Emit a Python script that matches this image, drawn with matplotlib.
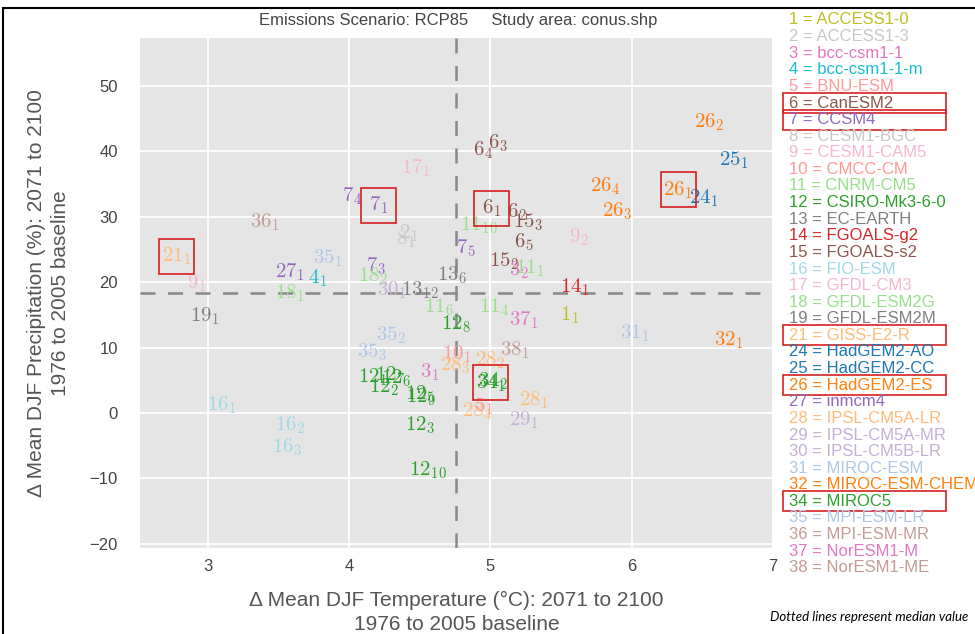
import matplotlib
matplotlib.use("Agg")
import matplotlib.pyplot as plt
from matplotlib.patches import Rectangle
from matplotlib.lines import Line2D

plt.rcParams['mathtext.fontset'] = 'cm'
NARROW = ['Liberation Sans Narrow', 'Liberation Sans', 'DejaVu Sans']

# ---- legend data ----
model_ids = [1, 2, 3, 4, 5, 6, 7, 8, 9, 10, 11, 12, 13, 14, 15, 16, 17, 18, 19,
             21, 24, 25, 26, 27, 28, 29, 30, 31, 32, 34, 35, 36, 37, 38]
model_names = ['ACCESS1-0', 'ACCESS1-3', 'bcc-csm1-1', 'bcc-csm1-1-m', 'BNU-ESM',
               'CanESM2', 'CCSM4', 'CESM1-BGC', 'CESM1-CAM5', 'CMCC-CM', 'CNRM-CM5',
               'CSIRO-Mk3-6-0', 'EC-EARTH', 'FGOALS-g2', 'FGOALS-s2', 'FIO-ESM',
               'GFDL-CM3', 'GFDL-ESM2G', 'GFDL-ESM2M', 'GISS-E2-R', 'HadGEM2-AO',
               'HadGEM2-CC', 'HadGEM2-ES', 'inmcm4', 'IPSL-CM5A-LR', 'IPSL-CM5A-MR',
               'IPSL-CM5B-LR', 'MIROC-ESM', 'MIROC-ESM-CHEM', 'MIROC5', 'MPI-ESM-LR',
               'MPI-ESM-MR', 'NorESM1-M', 'NorESM1-ME']
model_colors = {1: '#bcbd22', 2: '#c7c7c7', 3: '#e377c2', 4: '#17becf', 5: '#ff9896',
                6: '#8c564b', 7: '#9467bd', 8: '#c7c7c7', 9: '#f7b6d2', 10: '#ff9896',
                11: '#98df8a', 12: '#2ca02c', 13: '#7f7f7f', 14: '#d62728', 15: '#8c564b',
                16: '#9edae5', 17: '#f7b6d2', 18: '#98df8a', 19: '#7f7f7f', 21: '#ffbb78',
                24: '#1f77b4', 25: '#1f77b4', 26: '#ff7f0e', 27: '#9467bd', 28: '#ffbb78',
                29: '#c5b0d5', 30: '#c5b0d5', 31: '#aec7e8', 32: '#ff7f0e', 34: '#2ca02c',
                35: '#aec7e8', 36: '#c49c94', 37: '#e377c2', 38: '#c49c94'}
highlight_models = [6, 7, 21, 26, 34]

# ---- scatter-label data: model number, run number, dT (degC), dP (%) ----
label_model = [26, 25, 6, 6, 17, 26, 26, 24, 7, 7, 6, 26, 36, 6, 15, 11, 8, 2,
               9, 6, 7, 35, 21, 15, 3, 11, 27, 7, 18, 4, 13, 14, 30, 13, 18, 9,
               19, 11, 11, 1, 31, 37, 12, 32, 35, 38, 35, 10, 28, 28, 3,
               12, 12, 12, 12, 12, 12, 34, 34, 28, 28, 5, 29, 12, 12, 16, 16, 16]
label_run = [2, 1, 4, 3, 1, 4, 1, 1, 4, 1, 1, 3, 1, 2, 3, 10, 1, 1,
             2, 5, 5, 1, 1, 2, 2, 1, 1, 3, 2, 1, 6, 1, 1, 12, 1, 1,
             1, 6, 4, 1, 1, 1, 8, 1, 2, 1, 3, 1, 2, 3, 1,
             1, 7, 2, 6, 5, 9, 1, 2, 1, 4, 1, 1, 3, 10, 1, 2, 3]
temp = [6.55, 6.72, 4.95, 5.05, 4.47, 5.81, 6.33, 6.51, 4.02, 4.21, 5.01, 5.90, 3.40, 5.19, 5.27, 4.92, 4.40, 4.42,
        5.63, 5.24, 4.83, 3.85, 2.78, 5.10, 5.20, 5.28, 3.58, 4.19, 4.17, 3.78, 4.73, 5.60, 4.30, 4.50, 3.58, 2.92,
        2.98, 4.64, 5.03, 5.56, 6.02, 5.24, 4.76, 6.69, 4.30, 5.17, 4.16, 4.76, 5.00, 4.75, 4.57,
        4.17, 4.29, 4.25, 4.33, 4.50, 4.51, 5.00, 5.02, 5.31, 4.91, 4.95, 5.24, 4.50, 4.56, 3.10, 3.58, 3.56]
precip = [44.5, 38.7, 40.2, 41.3, 37.5, 34.6, 34.1, 32.9, 33.2, 31.8, 31.3, 30.9, 29.2, 30.7, 29.2, 28.7, 26.5, 27.5,
          26.9, 26.1, 25.2, 23.7, 23.9, 23.2, 21.8, 22.2, 21.6, 22.5, 20.9, 20.6, 21.1, 19.3, 18.7, 18.8, 18.3, 19.9,
          14.8, 16.2, 16.2, 15.0, 12.2, 14.2, 13.5, 11.2, 11.9, 9.6, 9.3, 9.0, 8.1, 7.3, 6.3,
          5.5, 5.8, 4.0, 5.3, 2.8, 2.4, 4.6, 4.9, 2.0, 0.3, 1.0, -1.1, -1.8, -8.7, 1.2, -1.8, -5.2]
highlight_labels = [(21, 1), (7, 1), (6, 1), (26, 1), (34, 1)]

median_temp = 4.755
median_precip = 18.35

xticks = [3, 4, 5, 6, 7]
yticks = [-20, -10, 0, 10, 20, 30, 40, 50]

W, H = 975, 634
fig = plt.figure(figsize=(W / 100, H / 100), dpi=100)
fig.patch.set_facecolor('white')

ax = fig.add_axes([140 / W, 1 - 548 / H, 633 / W, 510 / H])
ax.set_facecolor('#e5e5e5')
ax.set_xlim(2.519, 7.0)
ax.set_ylim(-20.64, 57.34)
for s in ax.spines.values():
    s.set_visible(False)
ax.set_xticks(xticks)
ax.set_yticks(yticks)
ax.grid(True, color='white', linewidth=1.3)
ax.set_axisbelow(True)
ax.tick_params(length=0, labelsize=12, labelcolor='#444444', pad=8)
ax.tick_params(axis='y', pad=16)
for lab in ax.get_xticklabels() + ax.get_yticklabels():
    lab.set_family(NARROW)

ax.axvline(median_temp, color='#888888', linestyle=(0, (6, 5)), linewidth=1.8, zorder=1)
ax.axhline(median_precip, color='#888888', linestyle=(0, (6, 5)), linewidth=1.8, zorder=1)

for m, r, x, y in zip(label_model, label_run, temp, precip):
    ax.text(x, y, r'$%d_{%d}$' % (m, r), color=model_colors[m], fontsize=15,
            ha='center', va='center', zorder=3)

# red highlight boxes around selected labels (35 px square)
bw = 35 / 141.25
bh = 35 / 6.54
for (m, r) in highlight_labels:
    for mm, rr, x, y in zip(label_model, label_run, temp, precip):
        if mm == m and rr == r:
            ax.add_patch(Rectangle((x - bw / 2, y - bh / 2), bw, bh, fill=False,
                                   edgecolor='#d62020', linewidth=1.2, zorder=4))
            break

ax.set_xlabel('\u0394 Mean DJF Temperature (\u00b0C): 2071 to 2100\n1976 to 2005 baseline',
              fontsize=15, color='#555555', family=NARROW, labelpad=12, linespacing=1.35)
ax.set_ylabel('\u0394 Mean DJF Precipitation (%): 2071 to 2100\n1976 to 2005 baseline',
              fontsize=15, color='#555555', family=NARROW, labelpad=14, linespacing=1.35)

fig.text(458 / W, 1 - 20 / H, 'Emissions Scenario: RCP85     Study area: conus.shp',
         ha='center', va='center', fontsize=12, color='#444444', family=NARROW)

# legend list
y0 = 20
step = 16.6
for i, (mid, name) in enumerate(zip(model_ids, model_names)):
    yy = y0 + i * step
    fig.text(789 / W, 1 - yy / H, '%d = %s' % (mid, name), ha='left', va='center',
             fontsize=12, color=model_colors[mid], family=NARROW)
    if mid in highlight_models:
        fig.add_artist(Rectangle((783 / W, 1 - (yy + 10) / H), 163 / W, 20 / H,
                                 fill=False, edgecolor='#d62020', linewidth=1.2,
                                 transform=fig.transFigure))

fig.text(968 / W, 1 - 617 / H, 'Dotted lines represent median value', ha='right',
         va='center', fontsize=9.5, style='italic', color='black',
         family=['Lato', 'Open Sans', 'DejaVu Sans'])

# outer frame of the screenshot
fig.add_artist(Line2D([3 / W, 1.0], [1 - 8 / H, 1 - 8 / H], color='black',
                      linewidth=1.5, transform=fig.transFigure))
fig.add_artist(Line2D([3 / W, 3 / W], [0.0, 1 - 8 / H], color='black',
                      linewidth=1.5, transform=fig.transFigure))

fig.savefig('out.png', dpi=100)
